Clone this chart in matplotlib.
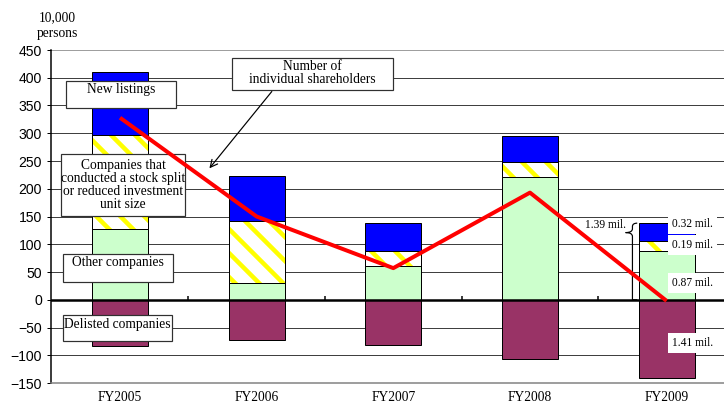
import numpy as np
import matplotlib
matplotlib.use('Agg')
import matplotlib.pyplot as plt
from matplotlib.patches import Rectangle, PathPatch
from matplotlib.path import Path

years = ['FY2005', 'FY2006', 'FY2007', 'FY2008', 'FY2009']
other = [128, 31, 61, 222, 87]
split = [169, 111, 27, 27, 19]
new_listings = [114, 81, 51, 46, 32]
delisted = [-83, -73, -82, -106, -141]
net_holders = [328, 150, 57, 193, -2]
mil_labels = ['0.32 mil.', '0.19 mil.', '0.87 mil.', '1.41 mil.']

SERIF = ['Liberation Serif', 'DejaVu Serif']
SANS = ['Liberation Sans', 'DejaVu Sans']

plt.rcParams['hatch.linewidth'] = 4.5

DPI = 72
fig = plt.figure(figsize=(724 / DPI, 410 / DPI), dpi=DPI)
ax = fig.add_axes([51 / 724, 1 - 383 / 410, 1 - 51 / 724, 333 / 410])

x = np.arange(len(years))
w = 0.41
other = np.array(other)
split = np.array(split)
new_listings = np.array(new_listings)

ax.bar(x, other, w, color='#CCFFCC', edgecolor='black', lw=1, zorder=3)
# hatched part: hatch takes the edge colour, outline drawn separately
ax.bar(x, split, w, bottom=other, color='white', edgecolor='#FFFF00',
       hatch='\\', lw=0, zorder=3)
ax.bar(x, split, w, bottom=other, fill=False, edgecolor='black', lw=1, zorder=3.1)
ax.bar(x, new_listings, w, bottom=other + split, color='#0000FF',
       edgecolor='black', lw=1, zorder=3)
ax.bar(x, delisted, w, color='#993366', edgecolor='black', lw=1, zorder=3)

ax.plot(x, net_holders, color='#FF0000', lw=4, zorder=6, solid_capstyle='butt')

# axes styling
ax.set_xlim(-0.505, 4.42)
ax.set_ylim(-150, 450)
ax.set_yticks(np.arange(-150, 451, 50))
ax.set_yticklabels([str(v).replace('-', '\u2212') for v in range(-150, 451, 50)],
                   family=SANS, fontsize=14)
for v in range(-100, 401, 50):
    if v != 0:
        ax.axhline(v, color='#404040', lw=1, zorder=1)
ax.axhline(450, color='#808080', lw=1.5, zorder=1)
ax.axhline(0, color='black', lw=2.5, zorder=4)
ax.vlines(x[:-1] + 0.5, 0, 6, color='black', lw=1.5, zorder=4)

ax.set_xticks(x)
ax.set_xticklabels(years, family=SERIF, fontsize=13.5)
ax.tick_params(axis='x', length=0, pad=8)
ax.tick_params(axis='y', length=4, width=1, pad=5)
ax.spines['top'].set_visible(False)
ax.spines['right'].set_visible(False)
ax.spines['bottom'].set_color('#808080')
ax.spines['bottom'].set_linewidth(1.5)
ax.spines['left'].set_linewidth(1.5)

fig.text(57 / 724, 1 - 18 / 410, '10,000', family=SERIF, fontsize=13.5,
         ha='center', va='center')
fig.text(57 / 724, 1 - 34 / 410, 'persons', family=SERIF, fontsize=13.5,
         ha='center', va='center')


def label_box(x0, x1, y0, y1, text, ty):
    ax.add_patch(Rectangle((x0, y0), x1 - x0, y1 - y0, facecolor='white',
                           edgecolor='#303030', lw=1.2, zorder=5))
    ax.text((x0 + x1) / 2, ty, text, family=SERIF, fontsize=13.5, ha='center',
            va='center', linespacing=1.0, zorder=5.5)


label_box(-0.396, 0.41, 346, 395, 'New listings', 378)
label_box(-0.432, 0.476, 151, 263,
          'Companies that\nconducted a stock split\nor reduced investment\nunit size', 206)
label_box(-0.418, 0.388, 32, 83, 'Other companies', 68)
label_box(-0.418, 0.38, -74, -27, 'Delisted companies', -45)
label_box(0.82, 2.0, 378, 436, 'Number of\nindividual shareholders', 408)

ax.annotate('', xy=(0.645, 234), xytext=(1.12, 378),
            arrowprops=dict(arrowstyle='->', color='black', lw=1.2,
                            mutation_scale=18), zorder=5)

# FY2009 breakdown labels
top9 = other[-1] + split[-1] + new_listings[-1]
lab_y = [top9 - 1, other[-1] + split[-1] / 2 + 3, other[-1] / 2 - 13, delisted[-1] / 2 - 7]
for lab, ly in zip(mil_labels, lab_y):
    ax.text(4.19, ly, lab, family=SERIF, fontsize=11.5, ha='center', va='center',
            zorder=5.5, bbox=dict(facecolor='white', edgecolor='none', pad=4))
ax.text(3.55, 135, '1.39 mil.', family=SERIF, fontsize=11.5, ha='center',
        va='center', zorder=5.5)

# curly brace
bx, cx = 3.75, 3.70
verts = [(bx + 0.035, top9), (bx, top9), (bx, top9 - 6),
         (bx, top9 - 10), (bx, top9 - 17), (cx, top9 - 17),
         (bx, top9 - 17), (bx, top9 - 24), (bx, 12),
         (bx, 2), (bx, 0), (bx + 0.035, 0)]
codes = [Path.MOVETO, Path.CURVE3, Path.CURVE3,
         Path.LINETO, Path.CURVE3, Path.CURVE3,
         Path.CURVE3, Path.CURVE3, Path.LINETO,
         Path.CURVE3, Path.CURVE3, Path.LINETO]
ax.add_patch(PathPatch(Path(verts, codes), fill=False, lw=1.2,
                       edgecolor='black', zorder=5, clip_on=False))

fig.savefig('out.png', dpi=DPI)
